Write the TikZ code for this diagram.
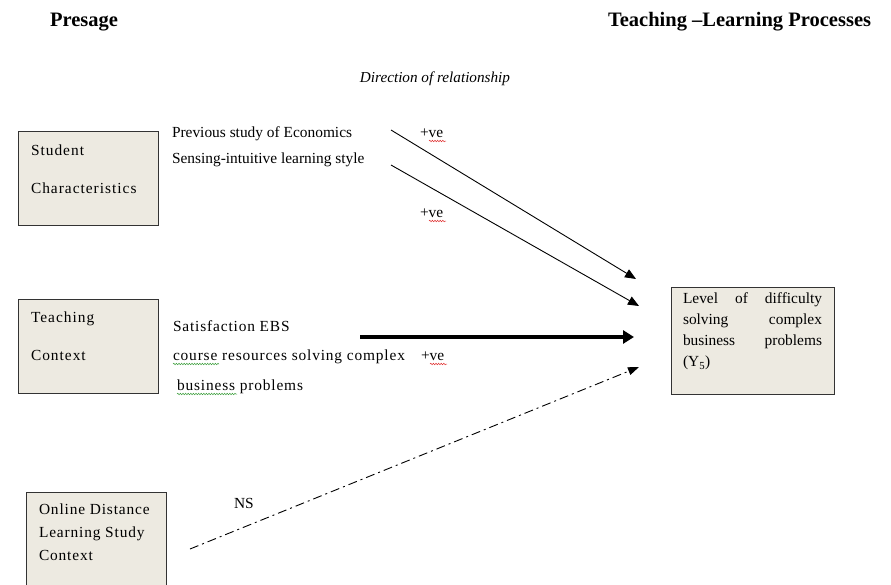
\documentclass[tikz,border=0pt]{standalone}
\usepackage{fontspec}
\setmainfont{Liberation Serif}
\usetikzlibrary{arrows.meta,decorations.pathmorphing}
\definecolor{boxfill}{HTML}{EDEAE1}
\definecolor{spellred}{HTML}{E03030}
\definecolor{spellgreen}{HTML}{40A040}
\begin{document}
\begin{tikzpicture}[x=1pt,y=-1pt,
  every node/.style={inner sep=0pt,outer sep=0pt},
  txt/.style={anchor=base west,font=\fontsize{15.4}{17}\selectfont},
  widetxt/.style={anchor=base west,font=\fontsize{15.4}{17}\selectfont\addfontfeature{LetterSpace=5.5}},
  boxtxt/.style={anchor=base west,font=\fontsize{15.4}{17}\selectfont\addfontfeature{LetterSpace=6.5}},
  head/.style={anchor=base west,font=\fontsize{20.5}{22}\selectfont\bfseries},
  conceptbox/.style={draw=black!80,line width=1pt,fill=boxfill,anchor=north west},
  link/.style={line width=0.9pt,-{Triangle[length=11pt,width=9pt]}},
  thicklink/.style={line width=3.5pt,-{Triangle[length=11pt,width=13pt]}},
  nslink/.style={line width=0.9pt,dash pattern=on 9pt off 4pt on 2pt off 4pt,-{Triangle[length=11pt,width=8pt]}},
  redwave/.style={spellred,line width=0.5pt,decorate,decoration={snake,amplitude=0.8pt,segment length=2.6pt}},
  greenwave/.style={spellgreen,line width=0.5pt,decorate,decoration={snake,amplitude=0.8pt,segment length=2.6pt}},
]
\useasboundingbox (0,0) rectangle (891,584);

% headings
\node[head] (presage) at (50,26) {Presage};
\node[head] (tlp) at (608,26) {Teaching –Learning Processes};
\node[anchor=base,font=\fontsize{15.2}{17}\selectfont\itshape] (dir) at (435,82) {Direction of relationship};

% concept boxes
\node[conceptbox,minimum width=140pt,minimum height=94pt] (student) at (18,131) {};
\node[boxtxt] (studentA) at (31,155) {Student};
\node[boxtxt] (studentB) at (31,193) {Characteristics};

\node[conceptbox,minimum width=140pt,minimum height=94pt] (teaching) at (18,299) {};
\node[boxtxt] (teachingA) at (31,322) {Teaching};
\node[boxtxt] (teachingB) at (31,360) {Context};

\node[conceptbox,minimum width=140pt,minimum height=100pt] (online) at (26,492) {};
\node[widetxt] (onlineA) at (39,514) {Online Distance};
\node[widetxt] (onlineB) at (39,537) {Learning Study};
\node[widetxt] (onlineC) at (39,560) {Context};

\node[conceptbox,minimum width=163pt,minimum height=107pt] (level) at (671,287) {};
\node[anchor=north west,text width=139pt,align=left,
      font=\fontsize{15.4}{21}\selectfont] (levelT) at (683,293)
  {Level\hfill of\hfill difficulty\\
   solving\hfill complex\\
   business\hfill problems\\
   (Y\textsubscript{5})};

% predictor labels
\node[txt] (prev) at (172,137) {Previous study of Economics};
\node[txt] (sens) at (172,163) {Sensing-intuitive learning style};
\node[widetxt] (satis) at (173,331) {Satisfaction EBS};
\node[widetxt] (course) at (173,360) {course resources solving complex};
\node[widetxt] (busi) at (177,390) {business problems};

% sign labels
\node[txt] (pv1) at (420,137) {+ve};
\node[txt] (pv2) at (420,217) {+ve};
\node[txt] (pv3) at (421,360) {+ve};
\node[txt] (ns) at (234,508) {NS};

% spell-check underlines
\draw[redwave] (429,141) -- (446,141);
\draw[redwave] (429,221) -- (446,221);
\draw[redwave] (430,364) -- (447,364);
\draw[greenwave] (173,364) -- (219,364);
\draw[greenwave] (177,394) -- (237,394);

% connectors
\coordinate (s1) at (391,130);
\coordinate (e1) at (636,279);
\coordinate (s2) at (391,165);
\coordinate (e2) at (639,306);
\coordinate (s3) at (360,337);
\coordinate (e3) at (634,337);
\coordinate (s4) at (190,549);
\coordinate (e4) at (639,367);
\draw[link] (s1) -- (e1);
\draw[link] (s2) -- (e2);
\draw[thicklink] (s3) -- (e3);
\draw[nslink] (s4) -- (e4);
\end{tikzpicture}
\end{document}
